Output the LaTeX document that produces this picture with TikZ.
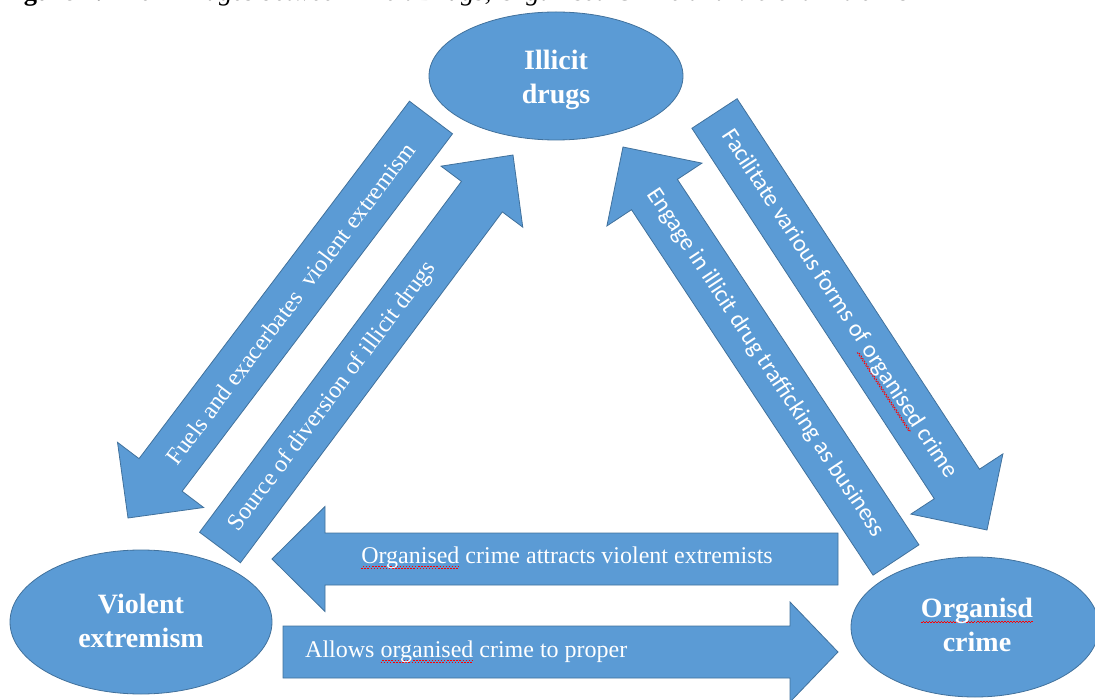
\documentclass[tikz,border=0pt]{standalone}
\usepackage{fontspec}
\setmainfont{Liberation Serif}
\newfontfamily\carl{Carlito}
\usetikzlibrary{calc,shapes.geometric}
\definecolor{bfill}{HTML}{5B9BD5}
\definecolor{bline}{HTML}{41719C}
\newsavebox\wavebox
\newsavebox\wordbox
\newcommand\sq[1]{\sbox\wordbox{#1}\rlap{\raisebox{-5pt}[0pt][0pt]{\hbox to \wd\wordbox{\xleaders\copy\wavebox\hfill}}}\usebox\wordbox}
\tikzset{
  blk/.style={fill=bfill, draw=bline, line width=0.8pt, line join=miter},
  bub/.style={ellipse, fill=bfill, draw=bline, line width=0.8pt, inner sep=0pt},
  btxt/.style={text=white, align=center, font=\fontsize{28}{34}\selectfont\bfseries, inner sep=0pt},
  serif/.style={text=white, inner sep=0pt, font=\fontsize{24}{28}\selectfont},
  sans/.style={text=white, inner sep=0pt, font=\carl\fontsize{24}{28}\selectfont},
}
% name, tail, tip, shaft half width, head half width, head length
\newcommand\barrow[6]{%
  \coordinate (#1-t) at #2;
  \coordinate (#1-h) at #3;
  \coordinate (#1-b) at ($(#1-h)!#6pt!(#1-t)$);
  \filldraw[blk] ($(#1-t)!#4pt!90:(#1-h)$) -- ($(#1-b)!#4pt!-90:(#1-t)$)
    -- ($(#1-b)!#5pt!-90:(#1-t)$) -- (#1-h) -- ($(#1-b)!#5pt!90:(#1-t)$)
    -- ($(#1-b)!#4pt!90:(#1-t)$) -- ($(#1-t)!#4pt!-90:(#1-h)$) -- cycle;
}
\begin{document}
\sbox\wavebox{\color{red}\rule[-0.5pt]{1.5pt}{0.9pt}\rule[0.7pt]{1.5pt}{0.9pt}}%
\begin{tikzpicture}[x=1pt,y=-1pt]
\useasboundingbox (0,0) rectangle (1095,700);
\clip (0,0) rectangle (1095,700);
\node[anchor=base west, inner sep=0pt, font=\fontsize{26.5}{30}\selectfont] (cap) at (0,1)
  {\textbf{Figure 1:} \textit{The Linkages between Illicit Drugs, Organised Crime and Violent Extremism}};

\barrow{a1}{(431,117.5)}{(128,518)}{27}{54}{54}
\barrow{a2}{(220,547.5)}{(513,155)}{25.5}{51}{52}
\barrow{a3}{(714.5,113.5)}{(987,530)}{27}{55}{55}
\barrow{a4}{(896,560)}{(623,147)}{27.5}{57}{57}
\barrow{a5}{(838,559)}{(272,559)}{26}{52.5}{53}
\barrow{a6}{(283,652)}{(838,652)}{26}{50}{48}

\node[bub, minimum width=254, minimum height=128] (drugs) at (556,76) {};
\node[btxt] (drugsT) at (556,80) {Illicit\\drugs};
\node[bub, minimum width=262, minimum height=144] (ve) at (141,622) {};
\node[btxt] (veT) at (141,621) {Violent\\extremism};
\node[bub, minimum width=248, minimum height=140] (oc) at (975,627) {};
\node[btxt] (ocT) at (977,625) {\sq{Organisd}\\crime};

\path (a1-t) -- (a1-b) node[pos=0.52, sloped, serif] (l1) {Fuels and exacerbates\ \ violent extremism};
\path (a2-t) -- (a2-b) node[pos=0.43, sloped, serif] (l2) {Source of diversion of illicit drugs};
\path (a3-t) -- (a3-b) node[pos=0.515, sloped, sans] (l3) {Facilitate various forms of \sq{organised} crime};
\path (a4-t) -- (a4-b) node[pos=0.54, sloped, sans] (l4) {Engage in illicit drug trafficking as business};
\node[serif, anchor=base] (l5) at (567,563) {\sq{Organised} crime attracts violent extremists};
\node[serif, anchor=base west] (l6) at (305,657) {Allows \sq{organised} crime to proper};
\end{tikzpicture}
\end{document}
